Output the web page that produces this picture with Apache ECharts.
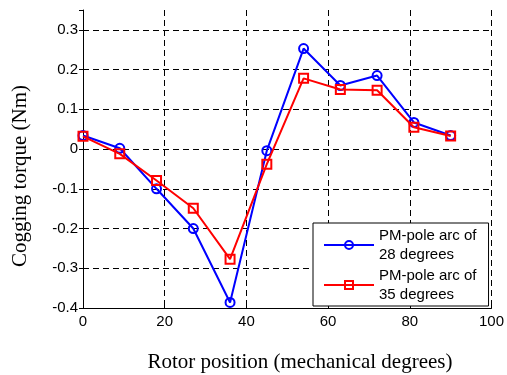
<!DOCTYPE html>
<html>
<head>
<meta charset="utf-8">
<script src="https://cdn.jsdelivr.net/npm/echarts@6/dist/echarts.min.js"></script>
<style>
html,body{margin:0;padding:0;background:#fff;}
#chart{width:507px;height:375px;}
</style>
</head>
<body>
<div id="chart"></div>
<script>
// Rotor position (mechanical degrees)
const xValues = [0, 9, 18, 27, 36, 45, 54, 63, 72, 81, 90];
// Cogging torque (Nm), PM-pole arc of 28 degrees
const arc28 = [0.034, 0.002, -0.100, -0.200, -0.386, -0.004, 0.253, 0.160, 0.185, 0.067, 0.034];
// Cogging torque (Nm), PM-pole arc of 35 degrees
const arc35 = [0.032, -0.012, -0.079, -0.149, -0.277, -0.038, 0.178, 0.150, 0.148, 0.055, 0.033];
const seriesNames = ['PM-pole arc of 28 degrees', 'PM-pole arc of 35 degrees'];
const legendLines = {
  'PM-pole arc of 28 degrees': 'PM-pole arc of\n28 degrees',
  'PM-pole arc of 35 degrees': 'PM-pole arc of\n35 degrees'
};
const xTitle = 'Rotor position (mechanical degrees)';
const yTitle = 'Cogging torque (Nm)';

const pairs = ys => xValues.map((x, i) => [x, ys[i]]);
const sansFont = "'Liberation Sans', Arial, sans-serif";

const chart = echarts.init(document.getElementById('chart'), null, {renderer: 'canvas'});
chart.setOption({
  animation: false,
  backgroundColor: '#fff',
  grid: {left: 83, right: 13, top: 10, bottom: 67, containLabel: false},
  xAxis: {
    type: 'value', min: 0, max: 100, interval: 20,
    axisLine: {show: true, onZero: false, lineStyle: {color: '#000', width: 1}},
    axisTick: {show: true, inside: true, length: 4, lineStyle: {color: '#000'}},
    axisLabel: {color: '#000', fontSize: 15, fontFamily: sansFont, margin: 6},
    splitLine: {show: true, showMinLine: false, lineStyle: {color: '#000', type: [6, 4], width: 1}}
  },
  yAxis: [{
    type: 'value', min: -0.4, max: 0.35, interval: 0.1,
    axisLine: {show: true, onZero: false, lineStyle: {color: '#000', width: 1}},
    axisTick: {show: true, inside: true, length: 4, lineStyle: {color: '#000'}},
    axisLabel: {color: '#000', fontSize: 15, fontFamily: sansFont, margin: 5, showMaxLabel: false,
      formatter: v => (Math.abs(v) < 1e-9 ? '0' : String(Math.round(v * 10) / 10))},
    splitLine: {show: true, showMinLine: false, showMaxLine: false, lineStyle: {color: '#000', type: [6, 4], width: 1}}
  }, {
    type: 'value', min: -0.4, max: 0.35, interval: 0.1, position: 'right',
    axisLine: {show: false},
    axisTick: {show: true, inside: true, length: 4, lineStyle: {color: '#000'}},
    axisLabel: {show: false},
    splitLine: {show: false}
  }],
  legend: {
    orient: 'vertical', left: 313, top: 223,
    data: seriesNames,
    formatter: n => legendLines[n],
    itemWidth: 50, itemHeight: 10, itemGap: 2,
    padding: [3, 12, 2, 10],
    backgroundColor: '#fff', borderColor: '#000', borderWidth: 1, borderRadius: 0,
    textStyle: {color: '#000', fontSize: 15, fontFamily: sansFont, lineHeight: 19}
  },
  graphic: [
    {type: 'text', x: 300, y: 362, style: {text: xTitle, font: "21px 'Liberation Serif', 'Times New Roman', serif", fill: '#000', align: 'center', verticalAlign: 'middle'}},
    {type: 'text', x: 20, y: 176, rotation: Math.PI / 2, style: {text: yTitle, font: "21px 'Liberation Serif', 'Times New Roman', serif", fill: '#000', align: 'center', verticalAlign: 'middle'}}
  ],
  series: [{
    name: seriesNames[0], type: 'line', data: pairs(arc28),
    symbol: 'circle', symbolSize: 9,
    lineStyle: {color: '#0000ff', width: 2},
    itemStyle: {color: 'rgba(0,0,0,0)', borderColor: '#0000ff', borderWidth: 2},
    z: 3
  }, {
    name: seriesNames[1], type: 'line', data: pairs(arc35),
    symbol: 'rect', symbolSize: 9,
    lineStyle: {color: '#ff0000', width: 2},
    itemStyle: {color: 'rgba(0,0,0,0)', borderColor: '#ff0000', borderWidth: 2},
    z: 4
  }]
});
</script>
</body>
</html>
